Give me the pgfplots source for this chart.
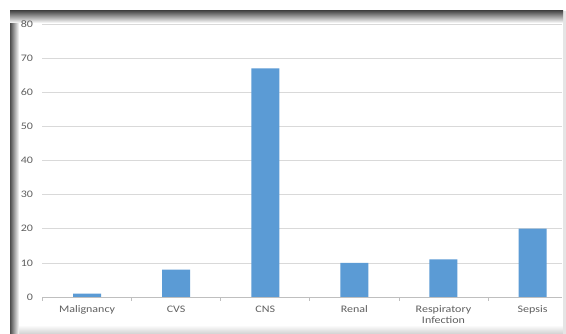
\documentclass[border=0pt]{standalone}
\usepackage{pgfplots}
\pgfplotsset{compat=1.18}
\usepackage{fontspec}
\setmainfont{Carlito}[FakeStretch=1.2]
\definecolor{barblue}{HTML}{5B9BD5}
\definecolor{txtgray}{HTML}{606060}
\definecolor{gridgray}{HTML}{D9D9D9}
\definecolor{axgray}{HTML}{BFBFBF}
\begin{document}
\begin{tikzpicture}[x=1pt,y=1pt]
\fill[white] (0,0) rectangle (566,334);
% frame with shadow
\shade[top color=white, bottom color=black!18] (10,0) rectangle (566,9);
\fill[black!10] (563,0) rectangle (566,323);
\shade[left color=black!70, right color=white] (10,0) rectangle (19,323);
\shade[top color=black!70, bottom color=white] (10,323) rectangle (563,311);
\begin{axis}[
  at={(42.5pt,37pt)}, anchor=south west,
  scale only axis, width=519.5pt, height=273pt,
  xmin=-0.5, xmax=5.33, ymin=0, ymax=80,
  ybar, bar width=28pt,
  axis lines*=left,
  x axis line style={axgray, line width=0.8pt},
  y axis line style={draw=none},
  ytick={0,10,...,80},
  ymajorgrids, grid style={gridgray, line width=0.7pt},
  xtick={0,1,2,3,4,5},
  xticklabels={Malignancy,CVS,CNS,Renal,{Respiratory\\Infection},Sepsis},
  major tick length=0pt,
  extra x ticks={-0.5,0.5,1.5,2.5,3.5,4.5},
  extra x tick labels={},
  extra x tick style={major tick length=4pt, tick style={axgray, line width=0.7pt}, xtick pos=lower, grid=none},
  x tick label style={font=\fontsize{10}{11.5}\selectfont, text=txtgray, align=center, yshift=-5pt},
  y tick label style={font=\fontsize{10}{11.5}\selectfont, text=txtgray, xshift=-6pt},
  /pgf/number format/assume math mode=true,
  clip=false,
]
\addplot[fill=barblue, draw=none] coordinates {(0,1) (1,8) (2,67) (3,10) (4,11) (5,20)};
\end{axis}
\pgfresetboundingbox
\useasboundingbox (0,0) rectangle (566,334);
\end{tikzpicture}
\end{document}
